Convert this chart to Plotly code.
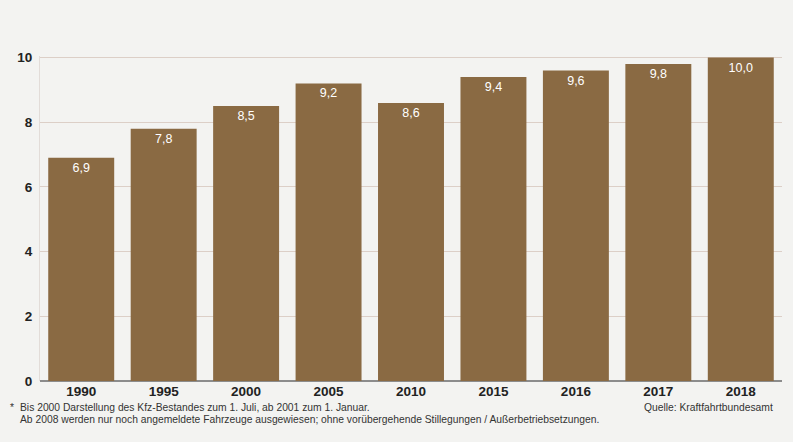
import plotly.graph_objects as go

years = ["1990", "1995", "2000", "2005", "2010", "2015", "2016", "2017", "2018"]
values = [6.9, 7.8, 8.5, 9.2, 8.6, 9.4, 9.6, 9.8, 10.0]
labels = ["6,9", "7,8", "8,5", "9,2", "8,6", "9,4", "9,6", "9,8", "10,0"]
y_ticks = [0, 2, 4, 6, 8, 10]

footnote1 = "Bis 2000 Darstellung des Kfz-Bestandes zum 1. Juli, ab 2001 zum 1. Januar."
footnote2 = "Ab 2008 werden nur noch angemeldete Fahrzeuge ausgewiesen; ohne vorübergehende Stillegungen / Außerbetriebsetzungen."
source = "Quelle: Kraftfahrtbundesamt"

bg = "#f3f3f1"
bar_color = "#8a6a43"
note_font = dict(size=10.3, family="Liberation Sans", color="#333333")

fig = go.Figure(go.Bar(
    x=years, y=values, text=labels,
    marker=dict(color=bar_color, line=dict(width=0)),
    textposition="inside", insidetextanchor="end",
    textfont=dict(color="white", size=12.5, family="Liberation Sans"),
    textangle=0, hoverinfo="skip",
))

fig.update_layout(
    width=793, height=442,
    margin=dict(l=40, r=11, t=56, b=61),
    paper_bgcolor=bg, plot_bgcolor=bg,
    bargap=0.2, showlegend=False,
    font=dict(family="Liberation Sans", color="#222222"),
    xaxis=dict(type="category", showgrid=False, showline=False, ticks="",
               tickfont=dict(size=13.5, family="Liberation Sans", color="#222222",
                             weight="bold")),
    yaxis=dict(range=[0, 10.05], tickvals=y_ticks, ticktext=[str(t) for t in y_ticks],
               showgrid=True, gridcolor="#dccfc7", gridwidth=1,
               zeroline=True, zerolinecolor="#8c8c8c", zerolinewidth=1.5,
               showline=True, linecolor="#e2dcd8", linewidth=1,
               ticks="", ticklabelstandoff=4,
               tickfont=dict(size=13.5, family="Liberation Sans", color="#222222",
                             weight="bold")),
    annotations=[
        dict(text="*", x=-0.043, y=-0.083, xref="paper", yref="paper", xanchor="left",
             yanchor="middle", showarrow=False, font=note_font),
        dict(text=footnote1, x=-0.029, y=-0.083, xref="paper", yref="paper", xanchor="left",
             yanchor="middle", showarrow=False, font=note_font),
        dict(text=footnote2, x=-0.029, y=-0.118, xref="paper", yref="paper", xanchor="left",
             yanchor="middle", showarrow=False, font=note_font),
        dict(text=source, x=0.991, y=-0.083, xref="paper", yref="paper", xanchor="right",
             yanchor="middle", showarrow=False, font=note_font),
    ],
)

fig.write_html("out.html", config={"displayModeBar": False},
               post_script="document.body.style.margin='0';document.body.style.background='#f3f3f1';")
